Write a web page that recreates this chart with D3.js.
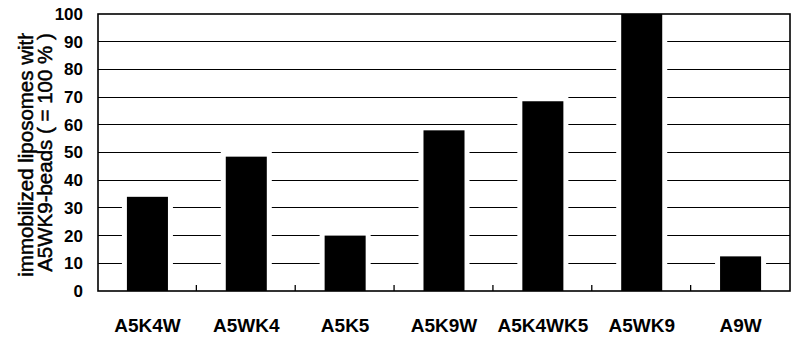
<!DOCTYPE html>
<html><head><meta charset="utf-8">
<script src="https://cdn.jsdelivr.net/npm/d3@7"></script>
<style>body{margin:0;background:#fff}svg{display:block}</style>
</head><body>
<svg id="c" width="798" height="338"></svg>
<script>
const categories = ["A5K4W","A5WK4","A5K5","A5K9W","A5K4WK5","A5WK9","A9W"];
const values = [34, 48.5, 20, 58, 68.5, 100, 12.5];
const yTicks = [0,10,20,30,40,50,60,70,80,90,100];
const yLabelLines = ["immobilized liposomes with", "A5WK9-beads ( = 100 % )"];

const svg = d3.select("#c");
const L = 98, R = 790, T = 14, B = 291;
const x = d3.scaleBand().domain(categories).range([L, R]).paddingInner(0.585).paddingOuter(0.2925);
const y = d3.scaleLinear().domain([0, 100]).range([B, T]);
const font = "'Liberation Sans', Arial, sans-serif";

// gridlines
svg.append("g").selectAll("line").data(yTicks.filter(d => d > 0 && d < 100)).join("line")
  .attr("x1", L).attr("x2", R).attr("y1", d => y(d)).attr("y2", d => y(d))
  .attr("stroke", "#000").attr("stroke-width", 1).attr("shape-rendering", "crispEdges");

// white margins around bars (gridline gaps)
svg.append("g").selectAll("rect").data(categories).join("rect")
  .attr("x", d => x(d) - 5).attr("width", x.bandwidth() + 10)
  .attr("y", (d, i) => Math.max(T + 1, y(values[i]) - 5))
  .attr("height", (d, i) => B - Math.max(T + 1, y(values[i]) - 5))
  .attr("fill", "#fff");

// bars
svg.append("g").selectAll("rect").data(categories).join("rect")
  .attr("x", d => x(d)).attr("width", x.bandwidth())
  .attr("y", (d, i) => y(values[i])).attr("height", (d, i) => B - y(values[i]))
  .attr("fill", "#000");

// frame
svg.append("rect").attr("x", L).attr("y", T).attr("width", R - L).attr("height", B - T)
  .attr("fill", "none").attr("stroke", "#000").attr("stroke-width", 1.6);

// bottom axis: ticks at band boundaries, labels centered
const xAxis = d3.axisBottom(x).tickSize(0).tickPadding(0);
const gx = svg.append("g").attr("transform", `translate(0,${B})`).call(xAxis);
gx.select(".domain").remove();
gx.selectAll("text").attr("y", 41).attr("dy", 0)
  .attr("font-family", font).attr("font-size", 19).attr("font-weight", "bold").attr("fill", "#000");
const step = x.step();
svg.append("g").selectAll("line").data(categories.slice(1)).join("line")
  .attr("x1", d => x(d) - step * x.paddingInner() / 2 - 0.5)
  .attr("x2", d => x(d) - step * x.paddingInner() / 2 - 0.5)
  .attr("y1", B).attr("y2", B - 6).attr("stroke", "#000").attr("stroke-width", 1.3);

// left axis labels
const yAxis = d3.axisLeft(y).tickValues(yTicks).tickSize(0).tickPadding(15);
const gy = svg.append("g").attr("transform", `translate(${L},0)`).call(yAxis);
gy.select(".domain").remove();
gy.selectAll("text").attr("font-family", font).attr("font-size", 17).attr("font-weight", "bold").attr("fill", "#000");

// y label (clipped at top like the reference)
svg.append("clipPath").attr("id", "yc").append("rect").attr("x", 0).attr("y", 33).attr("width", 90).attr("height", 300);
const cy = (T + B) / 2;
const yl = svg.append("g").attr("clip-path", "url(#yc)");
yl.selectAll("text").data(yLabelLines).join("text")
  .attr("transform", (d, i) => `translate(${i === 0 ? 33 : 52},${cy}) rotate(-90)`)
  .attr("text-anchor", "middle").attr("font-family", font).attr("font-size", 20.5)
  .attr("stroke", "#000").attr("stroke-width", 0.5)
  .attr("fill", "#000").text(d => d);
</script>
</body></html>
